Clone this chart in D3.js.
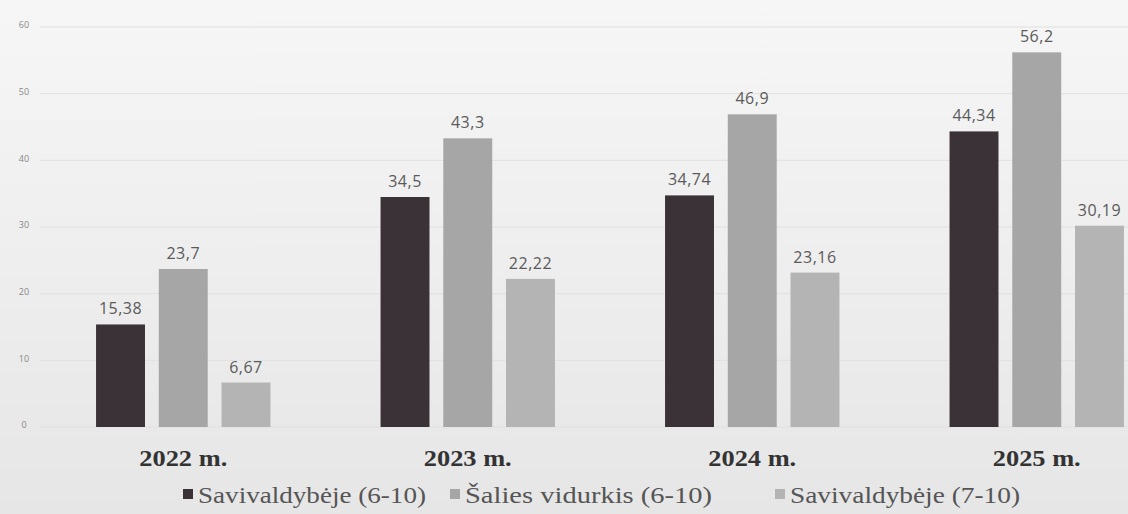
<!DOCTYPE html>
<html lang="en">
<head>
    <meta charset="utf-8">
    <title>Rezultatai</title>
    <script type="text/javascript" src="https://cdnjs.cloudflare.com/ajax/libs/d3/7.8.5/d3.min.js"></script>
	<style>
	body { margin: 0; background: #ececec; }
	.val { font: 16px "Open Sans", sans-serif; fill: #5a5a5a; letter-spacing: 0.5px; }
	.cat { font: bold 23px "Liberation Serif", serif; fill: #333; }
	.leg { font: 23px "Liberation Serif", serif; fill: #555; }
	.tick text { font: 9px "Open Sans", sans-serif; fill: #888; }
	</style>
</head>
<body>
    <script type="text/javascript">
      // data
      var years = ["2022 m.", "2023 m.", "2024 m.", "2025 m."];
      var seriesNames = ["Savivaldybėje (6-10)", "Šalies vidurkis (6-10)", "Savivaldybėje (7-10)"];
      var savivaldybe610 = [15.38, 34.5, 34.74, 44.34];
      var saliesVidurkis = [23.7, 43.3, 46.9, 56.2];
      var savivaldybe710 = [6.67, 22.22, 23.16, 30.19];
      var yTicks = [0, 10, 20, 30, 40, 50, 60];
      var colors = ["#3a3236", "#a6a6a6", "#b4b4b4"];

      var allSeries = [savivaldybe610, saliesVidurkis, savivaldybe710];
      var fmt = function(v) { return String(v).replace(".", ","); };

      var width = 1128, height = 514;

      var svg = d3.select("body").append("svg")
      .attr("width", width)
      .attr("height", height);

      // light paper-like background
      var grad = svg.append("defs").append("linearGradient")
      .attr("id", "bg").attr("x1", 0).attr("y1", 0).attr("x2", 0).attr("y2", 1);
      grad.append("stop").attr("offset", "0%").attr("stop-color", "#f6f6f6");
      grad.append("stop").attr("offset", "100%").attr("stop-color", "#e6e6e6");
      svg.append("rect").attr("width", width).attr("height", height).attr("fill", "url(#bg)");

      var x0 = d3.scaleBand()
      .domain(years)
      .range([42, 1178])
      .paddingInner(0.387)
      .paddingOuter(0.19);

      var x1 = d3.scaleBand()
      .domain(d3.range(3))
      .range([0, x0.bandwidth()])
      .paddingInner(0.22);

      var y = d3.scaleLinear()
      .domain([0, 60])
      .range([427, 27]);

      // grid lines
      svg.append("g").selectAll("line")
      .data(yTicks)
      .enter().append("line")
      .attr("x1", 40).attr("x2", width)
      .attr("y1", function(d) { return y(d); })
      .attr("y2", function(d) { return y(d); })
      .attr("stroke", "#e0e0e0")
      .attr("stroke-width", 1);

      // y axis labels only
      var yAxis = svg.append("g")
      .attr("transform", "translate(24,0)")
      .call(d3.axisLeft(y).tickValues(yTicks).tickSize(0).tickPadding(0));
      yAxis.select(".domain").remove();
      yAxis.selectAll("text").attr("text-anchor", "middle").attr("dy", "0.1em");

      var groups = svg.selectAll(".grp")
      .data(years)
      .enter().append("g")
      .attr("class", "grp")
      .attr("transform", function(d) { return "translate(" + x0(d) + ",0)"; });

      groups.selectAll("rect")
      .data(function(d, i) { return allSeries.map(function(s, k) { return {k: k, v: s[i]}; }); })
      .enter().append("rect")
      .attr("x", function(d) { return x1(d.k); })
      .attr("y", function(d) { return y(d.v); })
      .attr("width", x1.bandwidth())
      .attr("height", function(d) { return y(0) - y(d.v); })
      .attr("fill", function(d) { return colors[d.k]; });

      groups.selectAll(".val")
      .data(function(d, i) { return allSeries.map(function(s, k) { return {k: k, v: s[i]}; }); })
      .enter().append("text")
      .attr("class", "val")
      .attr("x", function(d) { return x1(d.k) + x1.bandwidth() / 2; })
      .attr("y", function(d) { return y(d.v) - 10; })
      .attr("text-anchor", "middle")
      .text(function(d) { return fmt(d.v); });

      groups.append("text")
      .attr("class", "cat")
      .attr("x", x0.bandwidth() / 2)
      .attr("y", 466)
      .attr("text-anchor", "middle")
      .attr("textLength", 88)
      .attr("lengthAdjust", "spacingAndGlyphs")
      .text(function(d) { return d; });

      // legend
      var legX = [183, 450, 775];
      var legW = [228, 247, 230];
      var leg = svg.selectAll(".legitem")
      .data(seriesNames)
      .enter().append("g")
      .attr("class", "legitem")
      .attr("transform", function(d, i) { return "translate(" + legX[i] + ",503)"; });

      leg.append("rect")
      .attr("x", 0).attr("y", -14)
      .attr("width", 10).attr("height", 10)
      .attr("fill", function(d, i) { return colors[i]; });

      leg.append("text")
      .attr("class", "leg")
      .attr("x", 15)
      .attr("y", 0)
      .attr("textLength", function(d, i) { return legW[i]; })
      .attr("lengthAdjust", "spacingAndGlyphs")
      .text(function(d) { return d; });
    </script>
</body>
</html>
